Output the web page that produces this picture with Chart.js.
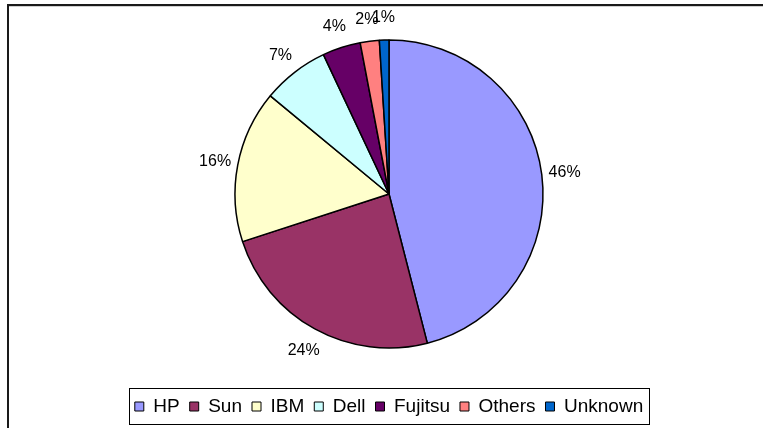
<!DOCTYPE html>
<html>
<head>
<meta charset="utf-8">
<script src="https://cdn.jsdelivr.net/npm/chart.js@4"></script>
<style>
html,body{margin:0;padding:0;background:#fff;}
#wrap{position:absolute;left:0;top:0;width:763px;height:428px;}
</style>
</head>
<body>
<div id="wrap"><canvas id="c" width="763" height="428"></canvas></div>
<script>
const categories = ['HP', 'Sun', 'IBM', 'Dell', 'Fujitsu', 'Others', 'Unknown'];
const shares = [46, 24, 16, 7, 4, 2, 1];
const pctLabels = ['46%', '24%', '16%', '7%', '4%', '2%', '1%'];
const sliceColors = ['#9999FF', '#993366', '#FFFFCC', '#CCFFFF', '#660066', '#FF8080', '#0066CC'];

const FONT = "'Liberation Sans', Arial, sans-serif";

const framePlugin = {
  id: 'frame',
  beforeDraw(chart) {
    const ctx = chart.ctx;
    ctx.save();
    ctx.fillStyle = '#fff';
    ctx.fillRect(0, 0, chart.width, chart.height);
    ctx.strokeStyle = '#d0d0d0';
    ctx.lineWidth = 1;
    ctx.beginPath();
    ctx.moveTo(9, 6.5); ctx.lineTo(chart.width, 6.5);
    ctx.stroke();
    ctx.strokeStyle = '#1a1a1a';
    ctx.lineWidth = 2;
    ctx.beginPath();
    ctx.moveTo(8, chart.height); ctx.lineTo(8, 5); ctx.lineTo(chart.width, 5);
    ctx.stroke();
    ctx.restore();
  }
};

const labelPlugin = {
  id: 'pctLabels',
  afterDatasetsDraw(chart) {
    const ctx = chart.ctx;
    const meta = chart.getDatasetMeta(0);
    ctx.save();
    ctx.font = '16px ' + FONT;
    ctx.fillStyle = '#000';
    ctx.textAlign = 'center';
    ctx.textBaseline = 'middle';
    meta.data.forEach((arc, i) => {
      const p = arc.getProps(['x', 'y', 'startAngle', 'endAngle', 'outerRadius'], true);
      const mid = (p.startAngle + p.endAngle) / 2;
      const r = p.outerRadius + 23;
      ctx.fillText(pctLabels[i], p.x + Math.cos(mid) * r, p.y + Math.sin(mid) * r + 1);
    });
    ctx.restore();
  }
};

const legendBoxPlugin = {
  id: 'legendBox',
  afterDraw(chart) {
    const boxes = chart.legend && chart.legend.legendHitBoxes;
    if (!boxes || !boxes.length) return;
    let l = Infinity, r = -Infinity, t = Infinity, b = -Infinity;
    boxes.forEach(h => {
      l = Math.min(l, h.left); r = Math.max(r, h.left + h.width);
      t = Math.min(t, h.top); b = Math.max(b, h.top + h.height);
    });
    const ctx = chart.ctx;
    ctx.save();
    ctx.strokeStyle = '#000';
    ctx.lineWidth = 1;
    ctx.strokeRect(Math.round(l - 6) + 0.5, Math.round(t - 9) + 0.5, Math.round(r - l + 12), Math.round(b - t + 17));
    ctx.restore();
  }
};

new Chart(document.getElementById('c'), {
  type: 'pie',
  data: {
    labels: categories,
    datasets: [{
      data: shares,
      backgroundColor: sliceColors,
      borderColor: '#000',
      borderWidth: 1.5,
      radius: 154
    }]
  },
  options: {
    responsive: false,
    animation: false,
    events: [],
    layout: { padding: { top: 1, left: 96, right: 81, bottom: 2 } },
    plugins: {
      legend: {
        position: 'bottom',
        labels: {
          font: { family: FONT, size: 19 },
          color: '#000',
          boxWidth: 9,
          boxHeight: 9,
          padding: 10,
          useBorderRadius: false,
          generateLabels(chart) {
            const ds = chart.data.datasets[0];
            return chart.data.labels.map((t, i) => ({
              text: t,
              fillStyle: ds.backgroundColor[i],
              strokeStyle: '#000',
              lineWidth: 1,
              hidden: false,
              index: i,
              fontColor: '#000'
            }));
          }
        }
      },
      tooltip: { enabled: false }
    }
  },
  plugins: [framePlugin, labelPlugin, legendBoxPlugin]
});
</script>
</body>
</html>
